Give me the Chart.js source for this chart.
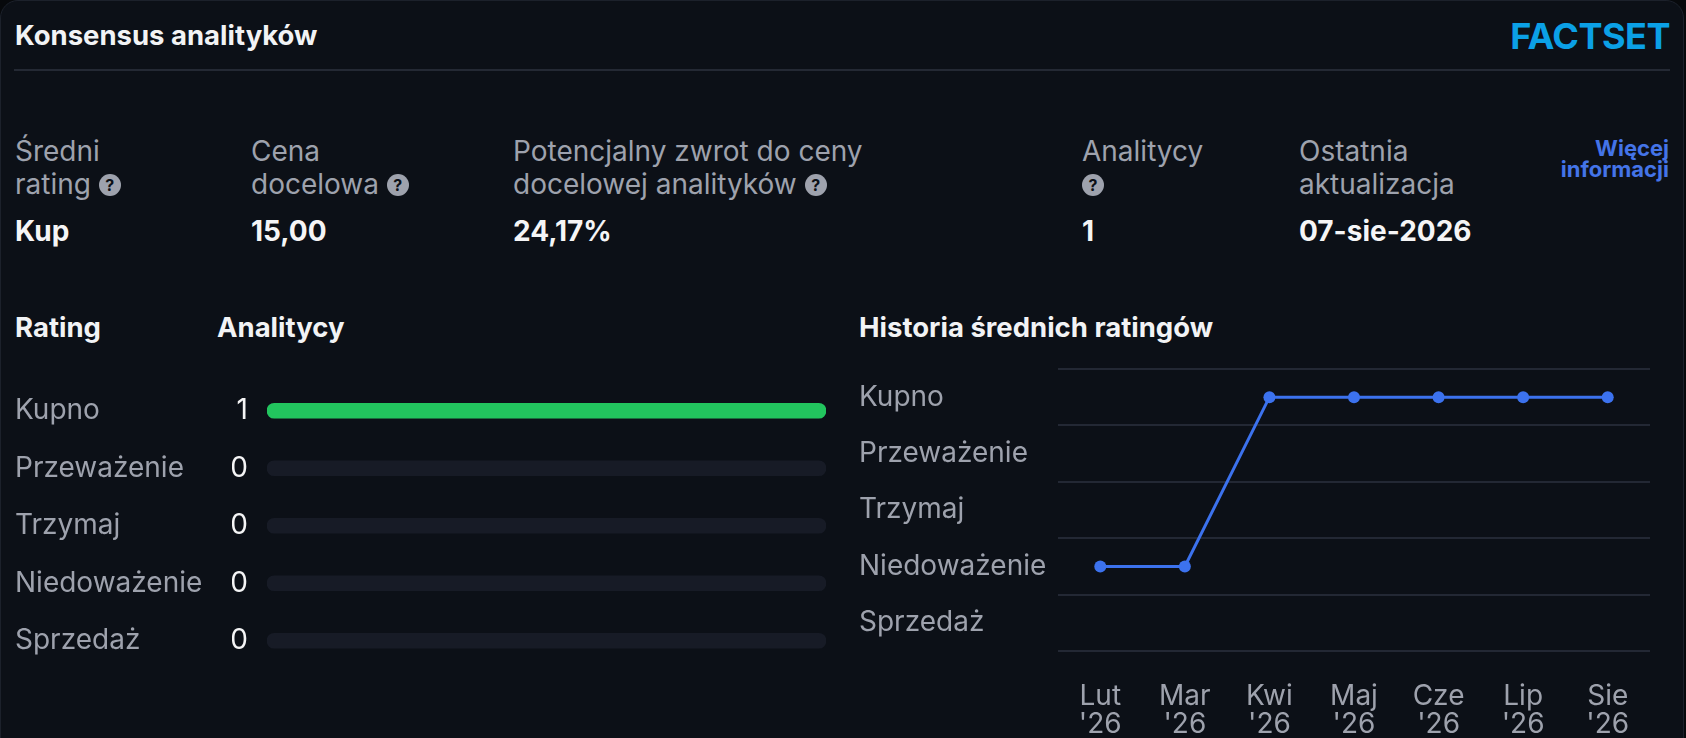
<!DOCTYPE html>
<html lang="pl">
<head>
<meta charset="utf-8">
<title>Konsensus analityków</title>
<script src="https://cdn.jsdelivr.net/npm/chart.js@4.4.1/dist/chart.umd.min.js"></script>
<style>
  html, body { margin: 0; padding: 0; background: #07090c; overflow: hidden; }
  body { width: 1686px; height: 738px; position: relative; font-family: Inter, "Noto Sans", sans-serif; }
  .card {
    position: absolute; left: 0; top: 0; width: 1682px; height: 780px;
    background: #0c1017; border: 1px solid #1c212b; border-radius: 18px;
  }
  .abs { position: absolute; white-space: nowrap; }
  .title { left: 15px; top: 18px; font-size: 27.5px; line-height: 34px; font-weight: 700; color: #f2f3f5; }
  .logo { right: 16px; top: 14px; font-size: 36px; line-height: 44px; font-weight: 700; color: #0ba0e6; letter-spacing: -0.5px; }
  .sep { left: 14px; top: 69px; width: 1656px; height: 2px; background: #242934; }
  .lbl { top: 135px; font-size: 28px; line-height: 33px; color: #9ea2ad; }
  .val { top: 215px; font-size: 28px; line-height: 33px; font-weight: 700; color: #f5f5f6; }
  .help {
    display: inline-block; width: 22px; height: 22px; border-radius: 50%;
    background: #9ea2ad; color: #0c1017; font-size: 16px; line-height: 22px;
    font-weight: 700; text-align: center; vertical-align: middle; position: relative; top: -1px;
  }
  .more { left: 1400px; width: 269px; top: 138px; text-align: right; font-size: 22px; line-height: 21px; font-weight: 700; color: #4474e8; }
  .head { top: 310px; font-size: 27.5px; line-height: 34px; font-weight: 700; color: #f2f3f5; }
  canvas { position: absolute; }
</style>
</head>
<body>
<div class="card"></div>
<div class="abs title">Konsensus analityków</div>
<div class="abs logo">FACTSET</div>
<div class="abs sep"></div>

<div class="abs lbl" style="left:15px">Średni<br>rating <span class="help">?</span></div>
<div class="abs val" style="left:15px">Kup</div>
<div class="abs lbl" style="left:251px">Cena<br>docelowa <span class="help">?</span></div>
<div class="abs val" style="left:251px">15,00</div>
<div class="abs lbl" style="left:513px">Potencjalny zwrot do ceny<br>docelowej analityków <span class="help">?</span></div>
<div class="abs val" style="left:513px">24,17%</div>
<div class="abs lbl" style="left:1082px">Analitycy<br><span class="help">?</span></div>
<div class="abs val" style="left:1082px">1</div>
<div class="abs lbl" style="left:1299px">Ostatnia<br>aktualizacja</div>
<div class="abs val" style="left:1299px">07-sie-2026</div>
<div class="abs more">Więcej<br>informacji</div>

<div class="abs head" style="left:15px">Rating</div>
<div class="abs head" style="left:217px">Analitycy</div>
<div class="abs head" style="left:859px">Historia średnich ratingów</div>

<canvas id="ratingBars" width="815" height="310" style="left:15px; top:372px;"></canvas>
<canvas id="ratingHistory" width="811" height="379" style="left:859px; top:359px;"></canvas>

<script>
// rating categories and how many analysts give each one
const ratingLabels = ['Kupno', 'Przeważenie', 'Trzymaj', 'Niedoważenie', 'Sprzedaż'];
const analystCounts = [1, 0, 0, 0, 0];
const totalAnalysts = 1;

// average rating per month
const historyMonths = [['Lut', "'26"], ['Mar', "'26"], ['Kwi', "'26"], ['Maj', "'26"], ['Cze', "'26"], ['Lip', "'26"], ['Sie', "'26"]];
const historyRatings = ['Niedoważenie', 'Niedoważenie', 'Kupno', 'Kupno', 'Kupno', 'Kupno', 'Kupno'];

const gray = '#9ea2ad';
const white = '#f5f5f6';
const green = '#22c55e';
const trackColor = '#171b26';
const blue = '#3c72ee';
const gridColor = '#232834';

Chart.defaults.font.family = 'Inter, "Noto Sans", sans-serif';

// labels sit inside the offset bands, so no extra room above / below is needed
function noVerticalPadding(scale) {
  scale.paddingTop = 0;
  scale.paddingBottom = 0;
}

document.addEventListener('DOMContentLoaded', function() {
  const barsEl = document.getElementById('ratingBars');
  if (barsEl) {
    new Chart(barsEl.getContext('2d'), {
      type: 'bar',
      data: {
        labels: ratingLabels,
        datasets: [{
          data: analystCounts,
          backgroundColor: (ctx) => ctx.raw > 0 ? green : 'rgba(0,0,0,0)',
          barThickness: 15,
          borderRadius: 8,
          borderSkipped: false,
          grouped: false,
          order: 0
        }, {
          data: ratingLabels.map(() => totalAnalysts),
          backgroundColor: trackColor,
          barThickness: 15,
          borderRadius: 8,
          borderSkipped: false,
          grouped: false,
          order: 1
        }]
      },
      options: {
        indexAxis: 'y',
        responsive: false,
        animation: false,
        layout: { padding: { top: 10, bottom: 12.5, right: 4 } },
        plugins: { legend: { display: false }, tooltip: { enabled: false } },
        scales: {
          x: { display: false, min: 0, max: totalAnalysts },
          y: {
            position: 'left',
            weight: 1,
            grid: { display: false, drawTicks: false },
            border: { display: false },
            ticks: { crossAlign: 'far', color: gray, font: { size: 28 }, padding: 0 },
            afterFit: function(scale) { scale.width = 217; noVerticalPadding(scale); }
          },
          yCount: {
            type: 'category',
            labels: analystCounts.map(String),
            position: 'left',
            offset: true,
            weight: 0,
            grid: { display: false, drawTicks: false },
            border: { display: false },
            ticks: { color: white, font: { size: 28 }, padding: 19 },
            afterFit: function(scale) { scale.width = 35; noVerticalPadding(scale); }
          }
        }
      }
    });
  }

  const historyEl = document.getElementById('ratingHistory');
  if (historyEl) {
    new Chart(historyEl.getContext('2d'), {
      type: 'line',
      data: {
        labels: historyMonths,
        datasets: [{
          data: historyRatings,
          borderColor: blue,
          backgroundColor: blue,
          borderWidth: 3,
          pointRadius: 6,
          pointBorderWidth: 0,
          pointBackgroundColor: blue,
          pointBorderColor: blue,
          tension: 0
        }]
      },
      options: {
        responsive: false,
        animation: false,
        layout: { padding: { top: 10, right: 20 } },
        plugins: { legend: { display: false }, tooltip: { enabled: false } },
        scales: {
          x: {
            offset: true,
            grid: { display: false, drawTicks: false },
            border: { display: false },
            ticks: { color: gray, font: { size: 28, lineHeight: 1 }, padding: 32, maxRotation: 0, autoSkip: false },
            afterFit: function(scale) { scale.height = 87; }
          },
          y: {
            type: 'category',
            labels: ratingLabels,
            offset: true,
            grid: { offset: true, color: gridColor, lineWidth: 2, drawTicks: false },
            border: { display: false },
            ticks: { crossAlign: 'far', color: gray, font: { size: 28 } },
            afterFit: function(scale) { scale.width = 199; noVerticalPadding(scale); }
          }
        }
      }
    });
  }
});
</script>
</body>
</html>
